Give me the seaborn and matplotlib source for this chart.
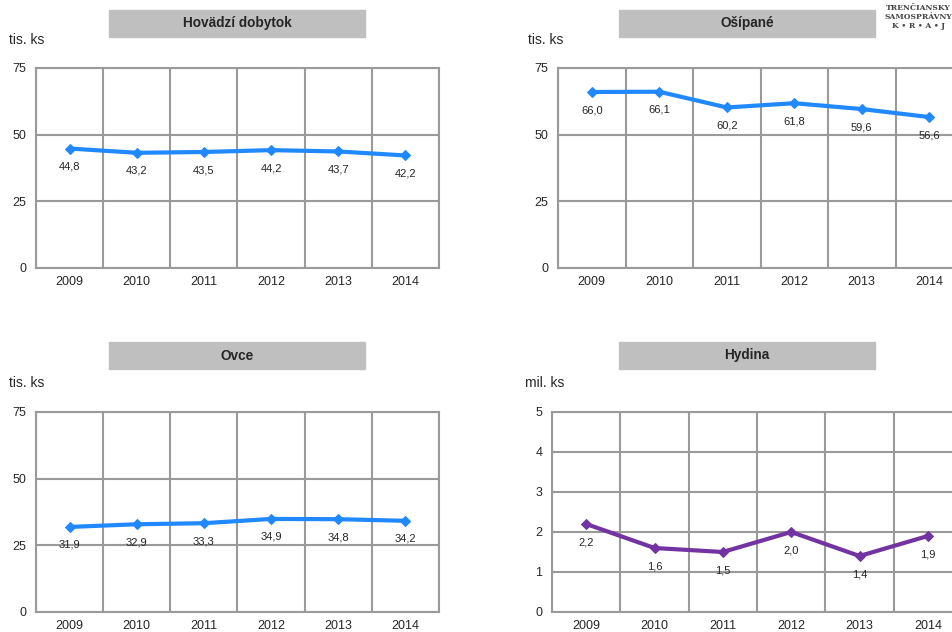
""" Imports des librairies """
import matplotlib.pyplot as plt
import matplotlib.patches as patches
import numpy as np
import pandas as pd
import seaborn as sns

""" Données """
roky = ['2009', '2010', '2011', '2012', '2013', '2014']
hovadzi = [44.8, 43.2, 43.5, 44.2, 43.7, 42.2]
osipane = [66.0, 66.1, 60.2, 61.8, 59.6, 56.6]
ovce = [31.9, 32.9, 33.3, 34.9, 34.8, 34.2]
hydina = [2.2, 1.6, 1.5, 2.0, 1.4, 1.9]

titles = ['Hovädzí dobytok', 'Ošípané', 'Ovce', 'Hydina']
units = ['tis. ks', 'tis. ks', 'tis. ks', 'mil. ks']
y_ticks = [[0, 25, 50, 75], [0, 25, 50, 75], [0, 25, 50, 75], [0, 1, 2, 3, 4, 5]]

sns.set_style("white")
plt.rcParams['font.family'] = ['Liberation Sans', 'DejaVu Sans']

W, H = 952, 632
fig = plt.figure(figsize=(W / 100, H / 100), dpi=100)

def fx(px):
    return px / W

def fy(py):
    return 1 - py / H

# positions des panneaux (en pixels) : gauche, haut, largeur, hauteur
panels = [
    dict(rect=(36, 68, 403, 200), box=(109, 10, 256, 27), unit=(9, 40), color='#2189FF'),
    dict(rect=(558, 68, 405, 200), box=(619, 10, 256, 27), unit=(528, 40), color='#2189FF'),
    dict(rect=(36, 412, 403, 200), box=(109, 342, 256, 27), unit=(9, 383), color='#2189FF'),
    dict(rect=(552, 412, 410, 200), box=(619, 342, 256, 27), unit=(525, 383), color='#7333A3'),
]
series = [hovadzi, osipane, ovce, hydina]

grid_col = '#9A9A9A'

for i, p in enumerate(panels):
    l, t, w, h = p['rect']
    ax = fig.add_axes([fx(l), fy(t + h), w / W, h / H])
    df = pd.DataFrame({'x': np.arange(len(roky)) + 0.5, 'y': series[i]})
    sns.lineplot(data=df, x='x', y='y', ax=ax, color=p['color'], linewidth=3,
                 marker='D', markersize=5, markeredgecolor=p['color'])
    ax.set_xlim(0, len(roky))
    ax.set_ylim(min(y_ticks[i]), max(y_ticks[i]))
    ax.set_yticks(y_ticks[i])
    ax.set_xticks(np.arange(len(roky)) + 0.5)
    ax.set_xticklabels(roky)
    ax.set_xticks(np.arange(len(roky) + 1), minor=True)
    ax.tick_params(axis='x', which='major', length=0, pad=5.5, labelsize=9)
    ax.tick_params(axis='x', which='minor', length=3, color=grid_col, width=1.5)
    ax.tick_params(axis='y', length=4, color=grid_col, width=1.5, pad=3, labelsize=9)
    ax.grid(True, which='minor', axis='x', color=grid_col, linewidth=1.5)
    ax.grid(True, which='major', axis='y', color=grid_col, linewidth=1.5)
    ax.grid(False, which='major', axis='x')
    for s in ax.spines.values():
        s.set_color(grid_col)
        s.set_linewidth(1.5)
    ax.set_xlabel('')
    ax.set_ylabel('')
    # étiquettes des valeurs
    for x, v in zip(df['x'], series[i]):
        ax.annotate(f'{v:.1f}'.replace('.', ','), (x, v), xytext=(0, -13),
                    textcoords='offset points', ha='center', va='center', fontsize=8)
    # titre dans un cadre gris
    bl, bt, bw, bh = p['box']
    fig.patches.append(patches.Rectangle((fx(bl), fy(bt + bh)), bw / W, bh / H,
                                         transform=fig.transFigure, color='#BFBFBF', zorder=0))
    fig.text(fx(bl + bw / 2), fy(bt + bh / 2), titles[i], ha='center', va='center',
             fontsize=9.8, fontweight='bold')
    ux, uy = p['unit']
    fig.text(fx(ux), fy(uy), units[i], ha='left', va='center', fontsize=10)

# logo
fig.text(fx(918), fy(17), 'TRENČIANSKY\nSAMOSPRÁVNY\nK • R • A • J', ha='center', va='center',
         fontsize=5.5, fontweight='bold', family=['DejaVu Serif'], color='#444444', linespacing=1.1)

fig.savefig('out.png', dpi=100)
